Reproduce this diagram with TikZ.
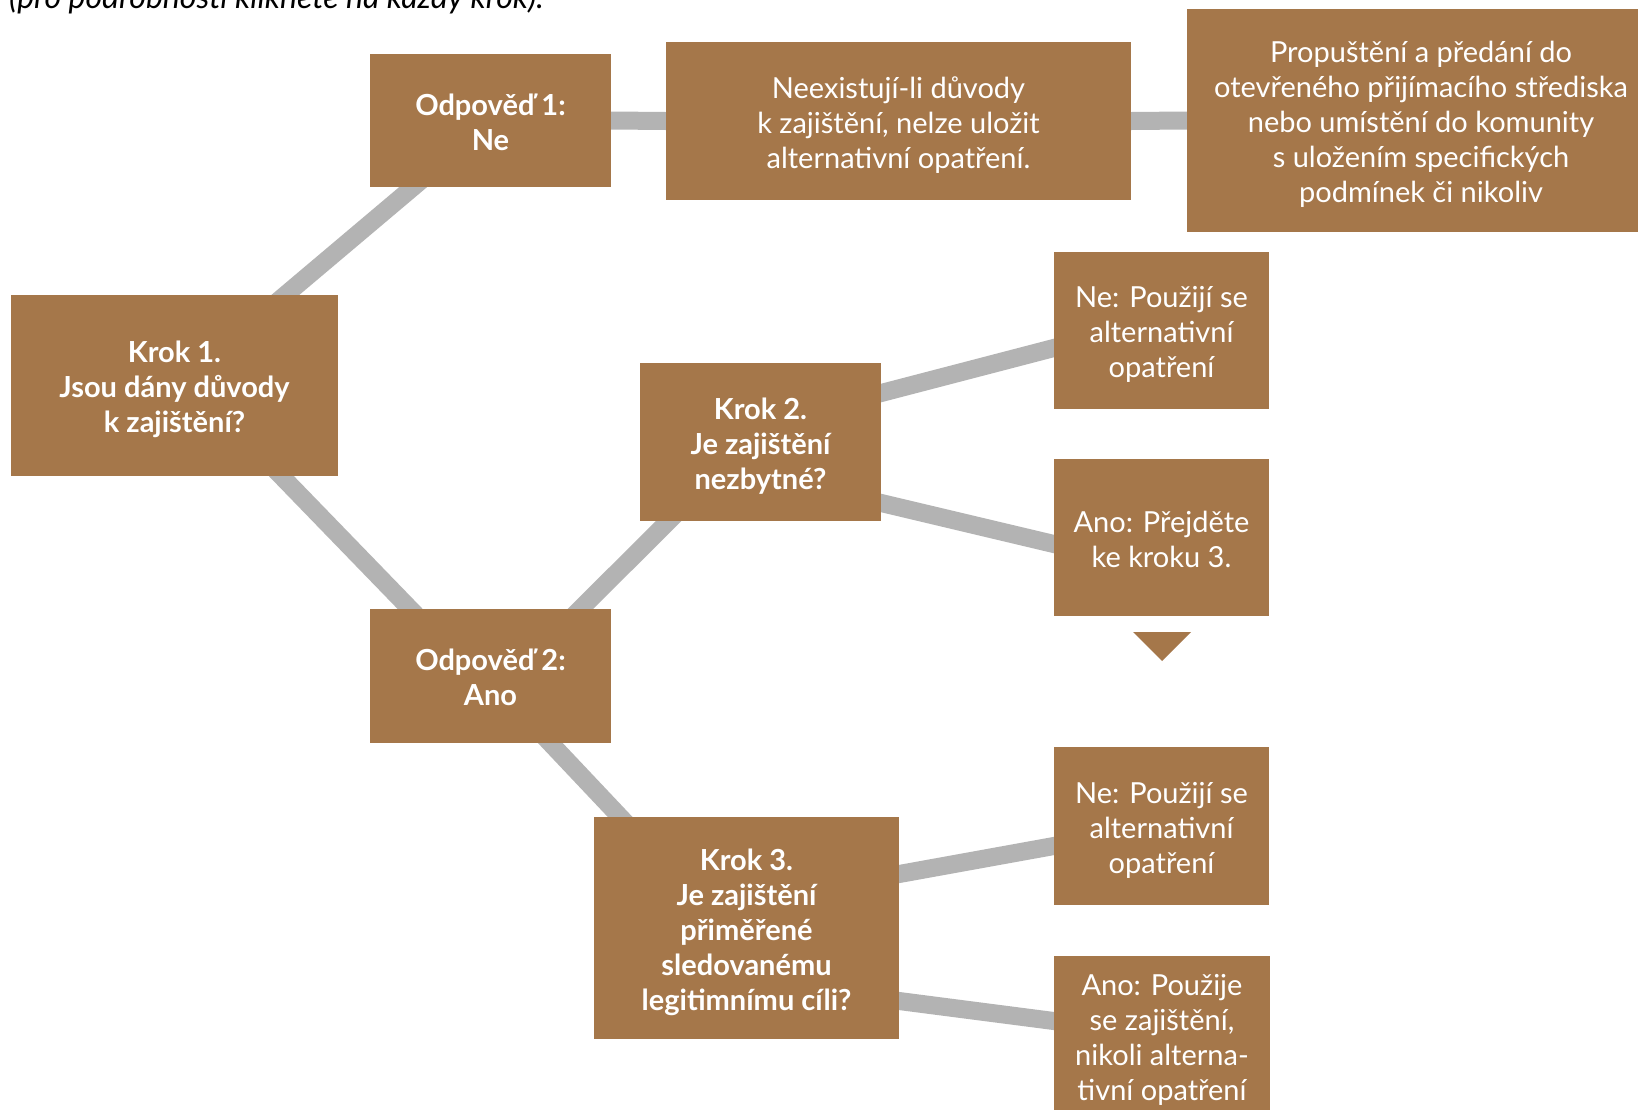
\documentclass[tikz,border=0pt]{standalone}
\usepackage{fontspec}
\setmainfont{Lato}
\usetikzlibrary{backgrounds}
\definecolor{boxbrown}{HTML}{A5774A}
\definecolor{linegray}{HTML}{B3B3B3}
\pgfdeclarelayer{lines}
\pgfsetlayers{background,lines,main}
\newcommand{\topstrut}{\rule[-0.213em]{0pt}{\dimexpr1.2em+2pt\relax}}
\newcommand{\botstrut}{\rule[-0.213em]{0pt}{1.2em}}
\begin{document}
\begin{tikzpicture}[x=1pt,y=-1pt,
  box/.style={fill=boxbrown, text=white, align=center, inner sep=0pt,
    font=\fontsize{29}{35}\selectfont},
  boldbox/.style={box, font=\fontsize{29}{35}\selectfont\bfseries},
  conn/.style={draw=linegray, line width=18pt, shorten <=-14pt, shorten >=-14pt}]
\useasboundingbox (0,0) rectangle (1638,1109);
\begin{scope}[on background layer]
  \fill[white] (0,0) rectangle (1638,1109);
\end{scope}

\node[anchor=base west, font=\fontsize{32}{38}\selectfont\itshape, inner sep=0pt] (intro) at (9,8)
  {(pro podrobnosti klikněte na každý krok).};

\node[boldbox, minimum width=241, minimum height=133] (o1) at (490.5,120.5)
  {\topstrut Odpověď 1:\\ Ne\botstrut};
\node[box, minimum width=465, minimum height=158] (nx) at (898.5,121)
  {\topstrut Neexistují-li důvody\\ k~zajištění, nelze uložit\\ alternativní opatření.\botstrut};
\node[box, minimum width=468, minimum height=223] (pr) at (1421,120.5)
  {\topstrut Propuštění a předání do\\ otevřeného přijímacího střediska\\ nebo umístění do komunity\\ s~uložením specifických\\ podmínek či nikoliv\botstrut};
\node[boldbox, minimum width=327, minimum height=181] (k1) at (174.5,385.5)
  {\topstrut Krok 1.\\ Jsou dány důvody\\ k~zajištění?\botstrut};
\node[boldbox, minimum width=241, minimum height=158] (k2) at (760.5,442)
  {\topstrut Krok 2.\\ Je zajištění\\ nezbytné?\botstrut};
\node[box, minimum width=215, minimum height=157] (n1) at (1161.5,330.5)
  {\topstrut Ne: Použijí se\\ alternativní\\ opatření\botstrut};
\node[box, minimum width=215, minimum height=157] (a1) at (1161.5,537.5)
  {\topstrut Ano: Přejděte\\ ke kroku 3.\botstrut};
\node[boldbox, minimum width=241, minimum height=134] (o2) at (490.5,676)
  {\topstrut Odpověď 2:\\ Ano\botstrut};
\node[boldbox, minimum width=305, minimum height=222] (k3) at (746.5,928)
  {\topstrut Krok 3.\\ Je zajištění\\ přiměřené\\ sledovanému\\ legitimnímu cíli?\botstrut};
\node[box, minimum width=215, minimum height=158] (n2) at (1161.5,826)
  {\topstrut Ne: Použijí se\\ alternativní\\ opatření\botstrut};
\node[box, minimum width=216, minimum height=164] (a2) at (1162,1038) {};
\node[box, fill=none] (a2t) at (1162,1036)
  {\topstrut Ano: Použije\\ se zajištění,\\ nikoli alterna-\\ tivní opatření\botstrut};

\fill[boxbrown] (1133,632) -- (1191,632) -- (1162,661) -- cycle;

\begin{pgfonlayer}{lines}
  \draw[conn] ([xshift=111]k1.north) -- ([xshift=-77.5]o1.south);
  \draw[conn] (o1.east) -- (nx.west);
  \draw[conn] (nx.east) -- (pr.west);
  \draw[conn] ([xshift=107]k1.south) -- ([xshift=-80.5]o2.north);
  \draw[conn] ([xshift=90]o2.north) -- ([xshift=-92]k2.south);
  \draw[conn] ([xshift=60]o2.south) -- ([xshift=-126.5]k3.north);
  \draw[conn] ([yshift=49]k2.east) -- ([yshift=-17.5]n1.west);
  \draw[conn] ([yshift=-61]k2.east) -- ([yshift=-6.5]a1.west);
  \draw[conn] ([yshift=54]k3.east) -- ([yshift=-20]n2.west);
  \draw[conn] ([yshift=-73]k3.east) -- ([yshift=17]a2.west);
\end{pgfonlayer}
\end{tikzpicture}
\end{document}
